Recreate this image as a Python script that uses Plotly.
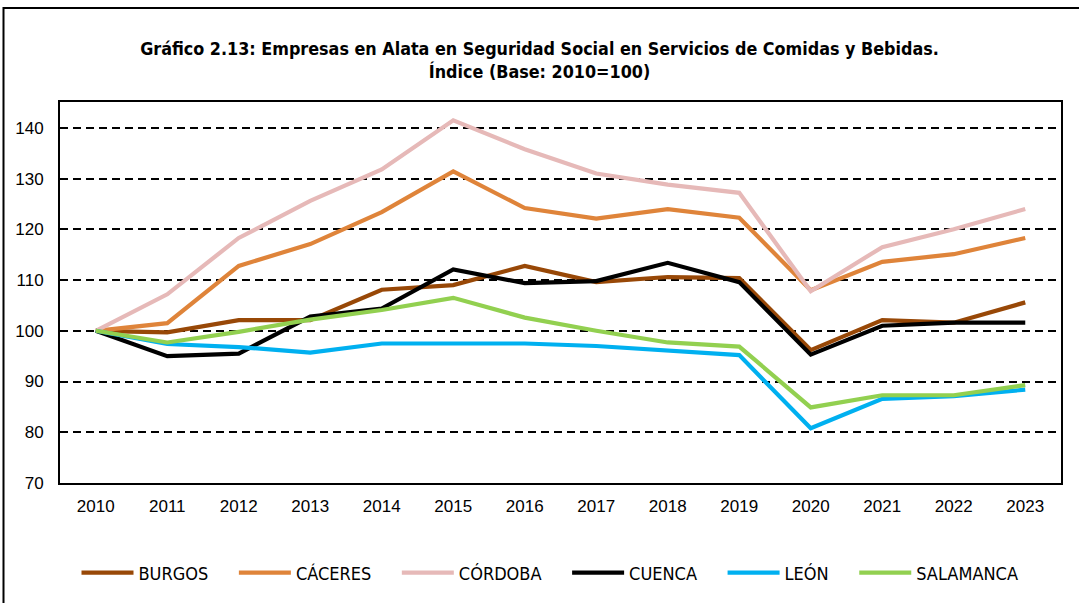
import plotly.graph_objects as go

# Índice (Base: 2010 = 100) de empresas en alta por provincia
years = ["2010", "2011", "2012", "2013", "2014", "2015", "2016",
         "2017", "2018", "2019", "2020", "2021", "2022", "2023"]

burgos = [100, 99.7, 102.1, 102.1, 108.1, 109.0, 112.8, 109.6, 110.6, 110.4, 96.2, 102.1, 101.6, 105.6]
caceres = [100, 101.5, 112.8, 117.1, 123.4, 131.4, 124.2, 122.1, 124.0, 122.3, 108.0, 113.6, 115.1, 118.3]
cordoba = [100, 107.2, 118.3, 125.6, 131.8, 141.5, 135.8, 131.0, 128.8, 127.2, 107.8, 116.5, 120.0, 124.0]
cuenca = [100, 95.0, 95.5, 102.8, 104.4, 112.1, 109.4, 109.8, 113.4, 109.6, 95.3, 101.0, 101.6, 101.6]
leon = [100, 97.4, 96.8, 95.7, 97.5, 97.5, 97.5, 97.0, 96.0, 95.2, 80.8, 86.6, 87.1, 88.4]
salamanca = [100, 97.7, 99.8, 102.2, 104.1, 106.5, 102.6, 100.0, 97.7, 96.9, 84.9, 87.3, 87.3, 89.3]

series = [
    ("BURGOS", burgos, "#984807"),
    ("CÁCERES", caceres, "#DF843A"),
    ("CÓRDOBA", cordoba, "#E6B9B8"),
    ("CUENCA", cuenca, "#000000"),
    ("LEÓN", leon, "#00B0F0"),
    ("SALAMANCA", salamanca, "#92D050"),
]

y_ticks = [70, 80, 90, 100, 110, 120, 130, 140]

fig = go.Figure()
for name, values, color in series:
    fig.add_trace(go.Scatter(
        x=years, y=values, mode="lines",
        # espacio extra tras el nombre para separar las entradas de la leyenda
        name=name + "\u00a0\u00a0\u00a0\u00a0",
        line=dict(color=color, width=4.2),
    ))

W, H = 1079, 603
L, R, T, B = 60, 18, 102, 120
plot_h = H - T - B

axis_font = dict(family="Liberation Sans Narrow, Liberation Sans, Arial", size=17, color="#000000")

fig.update_layout(
    width=W, height=H,
    margin=dict(l=L, r=R, t=T, b=B, pad=0),
    paper_bgcolor="white", plot_bgcolor="white",
    title=dict(
        text="Gráfico 2.13: Empresas en Alata en Seguridad Social en Servicios de Comidas y Bebidas.<br>Índice (Base: 2010=100)",
        x=0.5, xanchor="center", y=1 - 55 / H, yanchor="middle",
        font=dict(family="DejaVu Sans Condensed, DejaVu Sans", size=17.8, color="#000000", weight="bold"),
    ),
    xaxis=dict(
        type="category", range=[-0.5, 13.5],
        showgrid=False, showline=True, linecolor="#000000", linewidth=2, mirror=True,
        ticks="", tickfont=axis_font, ticklabelstandoff=7,
    ),
    yaxis=dict(
        range=[70, 145.1], tickvals=y_ticks,
        showgrid=True, gridcolor="#000000", gridwidth=1.5, griddash="8px,5px",
        showline=True, linecolor="#000000", linewidth=2, mirror=True,
        zeroline=False, ticks="", tickfont=axis_font, ticklabelstandoff=11,
    ),
    legend=dict(
        orientation="h", x=0.5, xanchor="center",
        y=-(573 - (H - B)) / plot_h, yanchor="middle",
        font=dict(family="DejaVu Sans Condensed, DejaVu Sans", size=18, color="#000000"),
        itemwidth=52, traceorder="normal",
    ),
    showlegend=True,
    shapes=[
        # marco exterior del gráfico
        dict(type="rect", xref="paper", yref="paper",
             x0=-(L - 3.5) / (W - L - R), x1=(W + 40 - L) / (W - L - R),
             y0=-(B + 40) / plot_h, y1=1 + (T - 8) / plot_h,
             line=dict(color="#000000", width=2), layer="below"),
    ],
)

fig.write_html("out.html")
